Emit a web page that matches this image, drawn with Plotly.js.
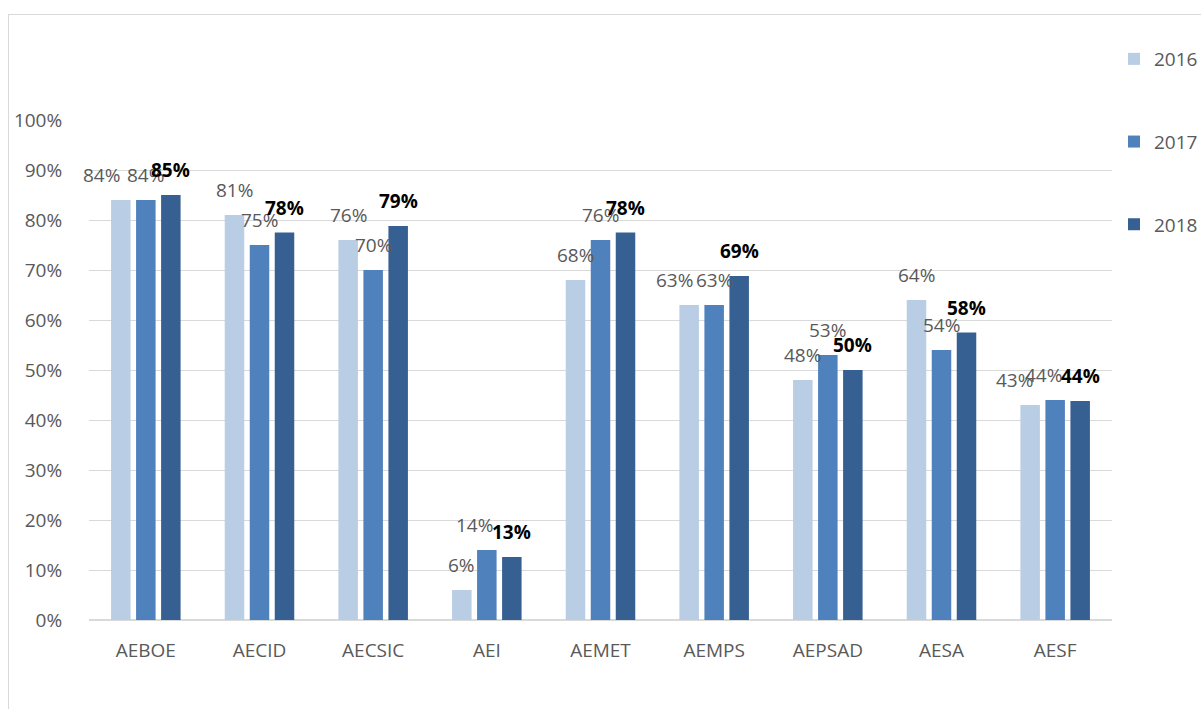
<!DOCTYPE html>
<html>
<head>
<meta charset="utf-8">
<script src="https://cdn.plot.ly/plotly-3.0.1.min.js"></script>
<style>
  html, body { margin: 0; padding: 0; background: #ffffff; overflow: hidden; }
  #frame { position: absolute; left: 8px; top: 14px; width: 1400px; height: 900px;
           border: 1.5px solid #d9d9d9; box-sizing: border-box; }
  #chart { position: absolute; left: 0; top: 0; width: 1201px; height: 709px; }
</style>
</head>
<body>
<div id="frame"></div>
<div id="chart"></div>
<script>
// ---- data ----
const categories = ["AEBOE", "AECID", "AECSIC", "AEI", "AEMET", "AEMPS", "AEPSAD", "AESA", "AESF"];
const years = ["2016", "2017", "2018"];
const values2016 = [84, 81, 76, 6, 68, 63, 48, 64, 43];
const values2017 = [84, 75, 70, 14, 76, 63, 53, 54, 44];
const values2018 = [85, 77.5, 78.8, 12.6, 77.5, 68.8, 50, 57.5, 43.8];

// ---- style ----
const colors = ["#b9cde5", "#4f81bd", "#376092"];
const labelColors = ["#595959", "#595959", "#000000"];
const labelWeights = [400, 400, 700];
// Excel-style nudges applied to labels that would overlap (pixels)
const labelNudge = { "AEBOE|0": -19, "AEI|1": -12, "AEMPS|0": -15, "AESF|0": -16, "AESF|1": -12 };

const W = 1201, H = 709;
const margin = { l: 89, r: 89, t: 120, b: 89, pad: 0 };
const bargap = 0.34, bargroupgap = 0.22;
const font = "Open Sans, Liberation Sans, sans-serif";
const fs = 19;

const series = [values2016, values2017, values2018];
const traces = series.map((vals, i) => ({
  type: "bar",
  name: years[i],
  legendgroup: years[i],
  x: categories,
  y: vals.map(v => v / 100),
  marker: { color: colors[i], line: { width: 0 } },
  hoverinfo: "x+y+name"
}));

const plotW = W - margin.l - margin.r;
const catW = plotW / categories.length;
const pitch = catW * (1 - bargap) / series.length;

const annotations = [];
series.forEach((vals, i) => {
  vals.forEach((v, j) => {
    const key = categories[j] + "|" + i;
    annotations.push({
      xref: "x", yref: "y",
      x: categories[j], y: v / 100,
      text: Math.round(v) + "%",
      showarrow: false,
      xanchor: "center", yanchor: "bottom",
      xshift: (i - (series.length - 1) / 2) * pitch + (labelNudge[key] || 0),
      yshift: 10,
      font: { family: font, size: fs, color: labelColors[i], weight: labelWeights[i] }
    });
  });
});

const layout = {
  width: W, height: H,
  margin: margin,
  paper_bgcolor: "rgba(0,0,0,0)",
  plot_bgcolor: "rgba(0,0,0,0)",
  barmode: "group",
  bargap: bargap,
  bargroupgap: bargroupgap,
  font: { family: font, size: fs, color: "#595959" },
  showlegend: true,
  legend: {
    xref: "container", yref: "container",
    x: 1114 / W, xanchor: "left",
    y: 1 - 40 / H, yanchor: "top",
    tracegroupgap: 55,
    itemwidth: 30,
    font: { family: font, size: fs, color: "#595959" },
    bgcolor: "rgba(0,0,0,0)"
  },
  xaxis: {
    type: "category",
    range: [-0.5, categories.length - 0.5],
    automargin: false,
    showgrid: false,
    showline: false,
    zeroline: false,
    ticks: "outside", ticklen: 13, tickcolor: "rgba(0,0,0,0)",
    tickfont: { family: font, size: fs, color: "#595959" }
  },
  yaxis: {
    range: [0, 1],
    automargin: false,
    dtick: 0.1,
    tickformat: ".0%",
    showgrid: true,
    gridcolor: "#d9d9d9",
    gridwidth: 1.3,
    zeroline: true,
    zerolinecolor: "#d9d9d9",
    zerolinewidth: 1.5,
    showline: false,
    ticks: "outside", ticklen: 22, tickcolor: "rgba(0,0,0,0)",
    tickfont: { family: font, size: fs, color: "#595959" },
    fixedrange: true
  },
  annotations: annotations
};

Plotly.newPlot("chart", traces, layout, { displayModeBar: false });
</script>
</body>
</html>
